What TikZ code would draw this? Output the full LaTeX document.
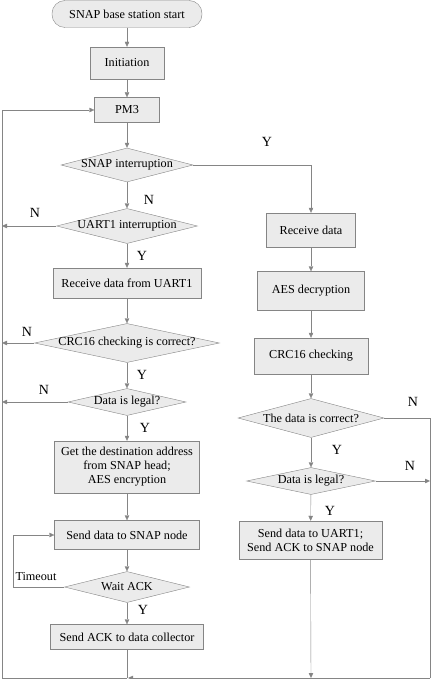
\documentclass[tikz,border=0pt]{standalone}
\usepackage{fontspec}
\setmainfont{Liberation Serif}
\usepackage{tikz}
\usepackage{xcolor}
\usetikzlibrary{shapes.geometric,arrows.meta}
\definecolor{boxgray}{HTML}{EBEBEB}
\definecolor{linegray}{HTML}{858585}

\begin{document}
\begin{tikzpicture}[x=1pt,y=-1pt]
			\useasboundingbox (0,0) rectangle (431,679);
			\tikzstyle{every node}=[font=\fontsize{12.2}{14}\selectfont]
			\tikzstyle{proc}=[rectangle,draw=linegray,fill=boxgray,inner sep=0pt,align=center]
			\tikzstyle{decide}=[diamond,draw=linegray,fill=boxgray,inner sep=0pt]
			\tikzstyle{yn}=[font=\fontsize{14}{16}\selectfont,inner sep=0pt]
			\tikzstyle{flow}=[draw=linegray,-{Triangle[length=5pt,width=4.5pt]}]
			\tikzstyle{wire}=[draw=linegray]
			% left column
			\node[proc,rounded corners=13pt,minimum width=150pt,minimum height=27pt] (start) at (127,14) {SNAP base station start};
			\node[proc,minimum width=74pt,minimum height=32pt] (init) at (127,63) {Initiation};
			\node[proc,minimum width=65pt,minimum height=25pt] (pm) at (127,110) {PM3};
			\node[decide,minimum width=132pt,minimum height=34pt] (snap) at (127,165) {\makebox[0pt]{SNAP interruption}};
			\node[decide,minimum width=141pt,minimum height=35pt] (uart) at (127,226) {\makebox[0pt]{UART1 interruption}};
			\node[proc,minimum width=148pt,minimum height=30pt] (recvu) at (127,283) {Receive data from UART1};
			\node[decide,minimum width=185pt,minimum height=39pt] (crcl) at (127,343) {\makebox[0pt]{CRC16 checking is correct?}};
			\node[decide,minimum width=118pt,minimum height=27pt] (legall) at (127,402) {\makebox[0pt]{Data is legal?}};
			\node[proc,minimum width=145pt,minimum height=52pt] (addr) at (127,467) {Get the destination address\\from SNAP head;\\AES encryption};
			\node[proc,minimum width=145pt,minimum height=29pt] (send) at (127,535) {Send data to SNAP node};
			\node[decide,minimum width=125pt,minimum height=31pt] (wait) at (127,587) {\makebox[0pt]{Wait ACK}};
			\node[proc,minimum width=153pt,minimum height=25pt] (ack) at (127,637) {Send ACK to data collector};
			% right column
			\node[proc,minimum width=89pt,minimum height=34pt] (recvs) at (311,230) {Receive data};
			\node[proc,minimum width=107pt,minimum height=39pt] (aes) at (311,291) {AES decryption};
			\node[proc,minimum width=114pt,minimum height=36pt] (crcr) at (311,356) {CRC16 checking};
			\node[decide,minimum width=146pt,minimum height=39pt] (correct) at (311,418) {\makebox[0pt]{The data is correct?}};
			\node[decide,minimum width=129pt,minimum height=27pt] (legalr) at (311,481) {\makebox[0pt]{Data is legal?}};
			\node[proc,minimum width=143pt,minimum height=38pt] (reply) at (310.5,540) {Send data to UART1;\\Send ACK to SNAP node};
			% loop corners
			\coordinate (tl) at (2,110);
			\coordinate (bl) at (2,678);
			\coordinate (bm) at (127,678);
			\coordinate (bs) at (311,678);
			\coordinate (br) at (430,678);
			\coordinate (retry) at (13,587);
			% labels
			\node[yn] (ysnap) at (267,142) {Y};
			\node[yn] (nsnap) at (149,200) {N};
			\node[yn] (nuart) at (35,213) {N};
			\node[yn] (yuart) at (142,256) {Y};
			\node[yn] (ncrcl) at (27,332) {N};
			\node[yn] (ycrcl) at (142,375) {Y};
			\node[yn] (nlegall) at (44,390) {N};
			\node[yn] (ylegall) at (145,428) {Y};
			\node (tout) at (36,577) {Timeout};
			\node[yn] (ywait) at (143,610) {Y};
			\node[yn] (ncorrect) at (413,402) {N};
			\node[yn] (ycorrect) at (337,450) {Y};
			\node[yn] (nlegalr) at (410,466) {N};
			\node[yn] (ylegalr) at (330,511) {Y};
			% connectors
			\draw[flow] (start) -- (init);
			\draw[flow] (init) -- (pm);
			\draw[flow] (pm) -- (snap);
			\draw[flow] (snap.east) -| (recvs.north);
			\draw[flow] (snap) -- (uart);
			\draw[flow] (uart.west) -- (uart.west -| tl);
			\draw[flow] (uart) -- (recvu);
			\draw[flow] (recvu) -- (crcl);
			\draw[flow] (crcl.west) -- (crcl.west -| tl);
			\draw[flow] (crcl) -- (legall);
			\draw[flow] (legall.west) -- (legall.west -| tl);
			\draw[flow] (legall) -- (addr);
			\draw[flow] (addr) -- (send);
			\draw[flow] (send) -- (wait);
			\draw[flow] (wait.west) -- (retry) |- (send.west);
			\draw[flow] (wait) -- (ack);
			\draw[wire] (ack) -- (bm);
			\draw[flow] (bm) -- (bl) -- (tl) -- (pm.west);
			\draw[flow] (recvs) -- (aes);
			\draw[flow] (aes) -- (crcr);
			\draw[flow] (crcr) -- (correct);
			\draw[wire] (correct.east) -| (br);
			\draw[flow] (correct) -- (legalr);
			\draw[flow] (legalr.east) -- (legalr.east -| br);
			\draw[flow] (legalr) -- (reply);
			\draw[flow] (reply) -- (bs);
			\draw[flow] (br) -- ([xshift=1pt]bm);
		\end{tikzpicture}
\end{document}
